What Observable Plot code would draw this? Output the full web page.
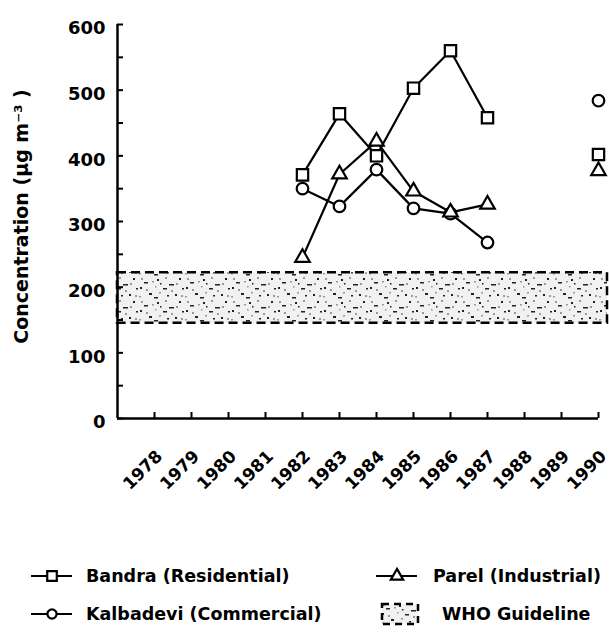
<!DOCTYPE html>
<html>
<head>
<meta charset="utf-8">
<script src="https://cdn.jsdelivr.net/npm/d3@7"></script>
<script src="https://cdn.jsdelivr.net/npm/@observablehq/plot@0.6"></script>
<style>
  body { margin: 0; background: #fff; }
  #wrap { position: relative; width: 609px; height: 634px; font-family: "DejaVu Sans", sans-serif; font-weight: bold; color: #000; }
  .item { position: absolute; display: flex; align-items: center; height: 24px; font-size: 17.5px; white-space: nowrap; }
  .item svg { display: block; }
</style>
</head>
<body>
<div id="wrap"></div>
<script>
// Suspended particulate matter, Bombay monitoring stations
const years = [1982, 1983, 1984, 1985, 1986, 1987];
const bandra = [371, 464, 400, 503, 560, 458];
const kalbadevi = [350, 323, 379, 320, 312, 268];
const parel = [245, 372, 422, 346, 314, 326];

// Single later survey year, not joined to the series
const laterYear = 1990;
const bandraLater = 402;
const kalbadeviLater = 484;
const parelLater = 377;

// WHO guideline range (µg m⁻³)
const whoLow = 145;
const whoHigh = 222;

const yearTicks = [1978, 1979, 1980, 1981, 1982, 1983, 1984, 1985, 1986, 1987, 1988, 1989, 1990];
const yLabels = [0, 100, 200, 300, 400, 500, 600];
const yTicks = [0, 50, 100, 150, 200, 250, 300, 350, 400, 450, 500, 550, 600];
const xDomain = [1977, 1990];
const yDomain = [0, 600];

const seriesNames = ["Bandra (Residential)", "Kalbadevi (Commercial)", "Parel (Industrial)"];
const seriesValues = [bandra, kalbadevi, parel];
const seriesLater = [bandraLater, kalbadeviLater, parelLater];
const seriesSymbol = ["square", "circle", "triangle"];
const seriesR = [6.4, 5.8, 5.4];

const joined = seriesNames.flatMap((name, s) =>
  years.map((year, i) => ({series: name, year, value: seriesValues[s][i]})));
const later = seriesNames.map((name, s) => ({series: name, year: laterYear, value: seriesLater[s]}));
const points = joined.concat(later);

const dotMarks = [1, 0, 2].map(s =>
  Plot.dot(points.filter(d => d.series === seriesNames[s]), {
    x: "year", y: "value", symbol: () => seriesSymbol[s], r: seriesR[s],
    fill: "#fff", stroke: "#000", strokeWidth: 2.2
  }));

const chart = Plot.plot({
  width: 609,
  height: 545,
  marginLeft: 117,
  marginRight: 11,
  marginTop: 24,
  marginBottom: 127,
  x: {domain: xDomain},
  y: {domain: yDomain},
  symbol: {domain: seriesSymbol, range: seriesSymbol},
  style: {fontFamily: "DejaVu Sans, sans-serif", fontWeight: "bold", color: "#000", background: "transparent"},
  marks: [
    Plot.rect([{lo: whoLow, hi: whoHigh}], {
      y1: "lo", y2: "hi", fill: "url(#stipple)", stroke: "#000",
      strokeWidth: 2.5, strokeDasharray: "9,5", insetRight: -9
    }),
    Plot.line(joined, {x: "year", y: "value", z: "series", stroke: "#000", strokeWidth: 2.2}),
    ...dotMarks,
    Plot.ruleX([xDomain[0]], {y1: yDomain[0], y2: yDomain[1], strokeWidth: 2.5}),
    Plot.ruleY([yDomain[0]], {x1: xDomain[0], x2: xDomain[1], strokeWidth: 2.5}),
    Plot.axisY({ticks: yTicks, tickSize: -6, tickFormat: () => "", strokeWidth: 2, label: null}),
    Plot.axisY({ticks: yLabels, tickSize: 0, tickPadding: 12, fontSize: 18, dy: 4, label: null}),
    Plot.axisX({ticks: yearTicks, tickSize: -6, tickFormat: () => "", strokeWidth: 2, label: null}),
    Plot.text(yearTicks, {
      x: d => d, frameAnchor: "bottom", text: d => String(d), rotate: -45,
      textAnchor: "end", lineAnchor: "middle", dx: 5, dy: 35, fontSize: 17
    }),
    Plot.text(["Concentration (µg m⁻³ )"], {
      frameAnchor: "left", textAnchor: "middle", rotate: -90, dx: -96, dy: -5, fontSize: 19, text: d => d
    })
  ]
});

// Stippled texture for the guideline band
const stipple = `
<pattern id="stipple" patternUnits="userSpaceOnUse" width="46" height="23">
  <rect width="46" height="23" fill="#f1f1f1"/>
  <g fill="#9a9a9a">
    <rect x="3" y="2" width="2" height="2"/><rect x="14" y="5" width="2" height="1.5"/>
    <rect x="27" y="1" width="2" height="2"/><rect x="38" y="7" width="2" height="2"/>
    <rect x="8" y="13" width="2" height="2"/><rect x="21" y="16" width="2" height="1.5"/>
    <rect x="33" y="14" width="2" height="2"/><rect x="43" y="19" width="2" height="2"/>
    <rect x="1" y="20" width="2" height="1.5"/><rect x="17" y="10" width="1.5" height="1.5"/>
  </g>
  <g fill="#222">
    <rect x="6" y="6" width="4" height="1.5"/><rect x="19" y="3" width="2" height="2"/>
    <rect x="31" y="8" width="5" height="1.5"/><rect x="41" y="2" width="2" height="2"/>
    <rect x="11" y="17" width="3" height="2"/><rect x="25" y="12" width="4" height="1.5"/>
    <rect x="37" y="18" width="2" height="2"/><rect x="2" y="11" width="2" height="2"/>
    <rect x="16" y="21" width="4" height="1.5"/><rect x="29" y="19" width="2" height="1.5"/>
    <rect x="44" y="12" width="2" height="1.5"/><rect x="22" y="7" width="1.5" height="1.5"/>
  </g>
</pattern>`;
d3.select(chart).insert("defs", ":first-child").html(stipple);

const wrap = document.getElementById("wrap");
wrap.appendChild(chart);

// Legend beneath the plot
function lineSymbol(symbol, r) {
  const svg = d3.create("svg").attr("width", 44).attr("height", 20);
  svg.append("line").attr("x1", 1).attr("x2", 42).attr("y1", 10).attr("y2", 10)
    .attr("stroke", "#000").attr("stroke-width", 2.2);
  const sym = {square: d3.symbolSquare, circle: d3.symbolCircle, triangle: d3.symbolTriangle}[symbol];
  svg.append("path").attr("transform", "translate(22,10)")
    .attr("d", d3.symbol(sym, Math.PI * r * r)())
    .attr("fill", "#fff").attr("stroke", "#000").attr("stroke-width", 2.2);
  return svg.node();
}
function bandSymbol() {
  const svg = d3.create("svg").attr("width", 40).attr("height", 24);
  svg.append("rect").attr("x", 2).attr("y", 2).attr("width", 36).attr("height", 20)
    .attr("fill", "url(#stipple)").attr("stroke", "#000").attr("stroke-width", 2.5)
    .attr("stroke-dasharray", "7,5");
  return svg.node();
}
const legendItems = [
  {left: 30, top: 564, node: lineSymbol(seriesSymbol[0], 5.4), gap: 12, label: seriesNames[0]},
  {left: 30, top: 602, node: lineSymbol(seriesSymbol[1], 4.6), gap: 12, label: seriesNames[1]},
  {left: 375, top: 564, node: lineSymbol(seriesSymbol[2], 4.6), gap: 14, label: seriesNames[2]},
  {left: 380, top: 602, node: bandSymbol(), gap: 22, label: "WHO Guideline"}
];
for (const it of legendItems) {
  const div = document.createElement("div");
  div.className = "item";
  div.style.left = it.left + "px";
  div.style.top = it.top + "px";
  div.appendChild(it.node);
  const span = document.createElement("span");
  span.style.marginLeft = it.gap + "px";
  span.textContent = it.label;
  div.appendChild(span);
  wrap.appendChild(div);
}
</script>
</body>
</html>
